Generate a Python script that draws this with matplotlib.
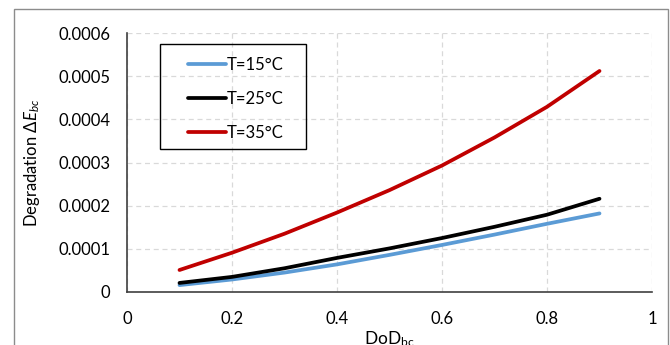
import matplotlib
matplotlib.use("Agg")
import matplotlib.pyplot as plt
from matplotlib.patches import Rectangle

plt.rcParams["font.family"] = ["Lato", "DejaVu Sans"]
plt.rcParams["mathtext.fontset"] = "custom"
plt.rcParams["mathtext.rm"] = "Lato"
plt.rcParams["mathtext.it"] = "Lato:italic"

# depth of discharge values
dod = [0.1, 0.2, 0.3, 0.4, 0.5, 0.6, 0.7, 0.8, 0.9]

# degradation per temperature
deg_15 = [0.000016, 0.000029, 0.000045, 0.000064, 0.000086, 0.000109, 0.000133, 0.000158, 0.000182]
deg_25 = [0.000021, 0.000035, 0.000055, 0.000079, 0.000101, 0.000125, 0.000151, 0.000179, 0.000216]
deg_35 = [0.000051, 0.000091, 0.000135, 0.000184, 0.000236, 0.000293, 0.000358, 0.000429, 0.000512]

labels = ["T=15°C", "T=25°C", "T=35°C"]
colors = ["#5B9BD5", "#000000", "#C00000"]

x_ticks = [0, 0.2, 0.4, 0.6, 0.8, 1]
x_ticklabels = ["0", "0.2", "0.4", "0.6", "0.8", "1"]
y_ticks = [0, 0.0001, 0.0002, 0.0003, 0.0004, 0.0005, 0.0006]
y_ticklabels = ["0", "0.0001", "0.0002", "0.0003", "0.0004", "0.0005", "0.0006"]

W, H = 670, 345
fig = plt.figure(figsize=(W / 100, H / 100), dpi=100)
ax = fig.add_axes([127 / W, 1 - 292 / H, 525 / W, 259 / H])

for series, label, color in zip([deg_15, deg_25, deg_35], labels, colors):
    ax.plot(dod, series, color=color, linewidth=2.7, label=label,
            solid_capstyle="round")

ax.set_xlim(0, 1)
ax.set_ylim(0, 0.0006)
ax.set_xticks(x_ticks)
ax.set_xticklabels(x_ticklabels)
ax.set_yticks(y_ticks)
ax.set_yticklabels(y_ticklabels)
ax.tick_params(axis="both", length=0, labelsize=12, colors="#000000")
ax.tick_params(axis="x", pad=14)
ax.tick_params(axis="y", pad=12)

ax.grid(True, color="#d9d9d9", linestyle=(0, (4, 3)), linewidth=0.9)
ax.set_axisbelow(True)

ax.spines["top"].set_visible(False)
ax.spines["right"].set_visible(False)
for side in ["left", "bottom"]:
    ax.spines[side].set_color("#404040")
    ax.spines[side].set_linewidth(1.2)

ax.set_ylabel("Degradation $\\Delta E_{bc}$", fontsize=12, labelpad=12)
ax.set_xlabel("DoD$_{\\mathrm{bc}}$", fontsize=12.5, labelpad=1)

# legend entries without frame, frame drawn separately to match the spacing
leg = ax.legend(loc="upper left", bbox_to_anchor=(188 / W, 1 - 57 / H),
                bbox_transform=fig.transFigure, fontsize=12, frameon=False,
                handlelength=2.3, handletextpad=0.05, labelspacing=1.08,
                borderpad=0, borderaxespad=0)
fig.patches.append(Rectangle((160 / W, 1 - 149 / H), 146 / W, 105 / H,
                             transform=fig.transFigure, fill=False,
                             edgecolor="#000000", linewidth=1.0))

# outer chart border
fig.patches.append(Rectangle((14 / W, -0.05), 654 / W, 1.05 - 9 / H,
                             transform=fig.transFigure, fill=False,
                             edgecolor="#8c8c8c", linewidth=1.0))

fig.savefig("out.png", dpi=100)
